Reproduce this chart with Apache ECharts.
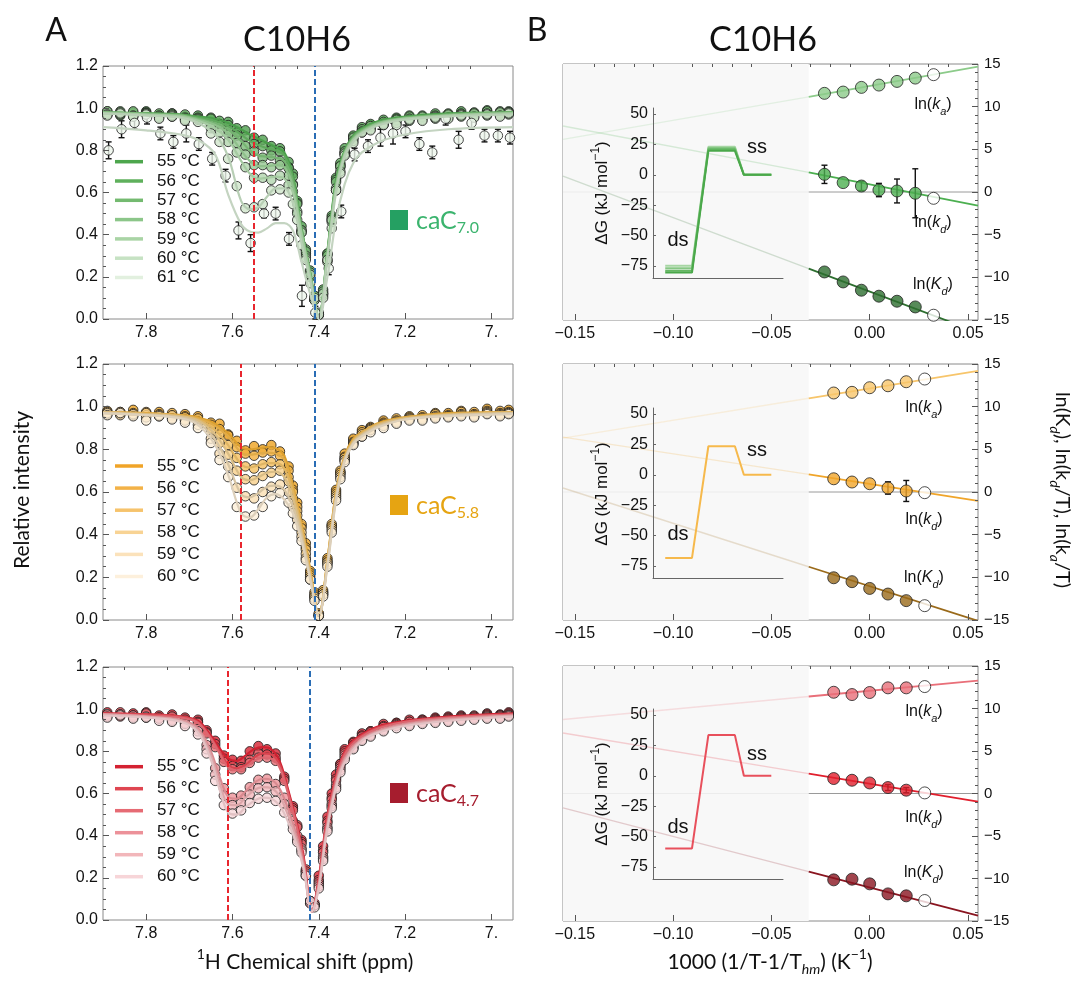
<!DOCTYPE html>
<html><head><meta charset="utf-8">
<script src="https://cdn.jsdelivr.net/npm/echarts@6/dist/echarts.min.js"></script>
<style>html,body{margin:0;padding:0;background:#fff;}#c{width:1080px;height:991px;}</style>
</head><body><div id="c"></div>
<script>
// ---------------- DATA ----------------
// Panel A: shared ppm grids
const S_GO = [7.89,7.86,7.83,7.80,7.77,7.74,7.71,7.68,7.65,7.63,7.61,7.59,7.57,7.55,7.53,7.51,7.49,7.47,7.46,7.45,7.44,7.43,7.42,7.41,7.40,7.39,7.38,7.37,7.36,7.35,7.34,7.32,7.30,7.28,7.25,7.22,7.19,7.16,7.13,7.10,7.07,7.04,7.01,6.98,6.96];
const S_R = [7.89,7.86,7.83,7.80,7.77,7.74,7.71,7.68,7.66,7.64,7.62,7.60,7.58,7.56,7.54,7.52,7.50,7.48,7.46,7.45,7.44,7.43,7.42,7.41,7.40,7.39,7.38,7.37,7.36,7.35,7.34,7.32,7.30,7.28,7.25,7.22,7.19,7.16,7.13,7.10,7.07,7.04,7.01,6.98,6.96];
const G_FIT = [7.90,7.80,7.72,7.68,7.64,7.61,7.58,7.56,7.54,7.52,7.50,7.48,7.46,7.44,7.42,7.40,7.38,7.36,7.34,7.32,7.30,7.26,7.20,7.10,6.95];
const R_FIT = [7.90,7.80,7.72,7.68,7.65,7.63,7.61,7.59,7.57,7.55,7.53,7.51,7.49,7.47,7.45,7.435,7.416,7.40,7.385,7.37,7.35,7.33,7.30,7.26,7.20,7.10,6.95];

// caC7.0 (green) measured points 55-60 °C
const s55 = [0.985,0.97,0.98,0.985,0.965,0.975,0.96,0.965,0.955,0.94,0.935,0.905,0.895,0.86,0.85,0.82,0.81,0.745,0.69,0.56,0.44,0.31,0.23,0.09,0.02,0.14,0.31,0.49,0.67,0.73,0.81,0.865,0.91,0.92,0.945,0.955,0.965,0.96,0.975,0.97,0.985,0.975,0.99,0.975,0.985];
const s56 = [0.97,0.985,0.965,0.98,0.975,0.96,0.97,0.95,0.95,0.925,0.92,0.885,0.865,0.83,0.82,0.80,0.795,0.72,0.675,0.55,0.42,0.33,0.21,0.11,0.02,0.12,0.31,0.48,0.66,0.74,0.79,0.87,0.895,0.925,0.93,0.95,0.95,0.965,0.96,0.975,0.97,0.98,0.975,0.985,0.975];
const s57 = [0.975,0.965,0.985,0.97,0.965,0.975,0.955,0.955,0.93,0.92,0.895,0.87,0.82,0.795,0.765,0.775,0.75,0.715,0.64,0.545,0.41,0.32,0.20,0.11,0.02,0.11,0.30,0.47,0.65,0.72,0.795,0.855,0.90,0.91,0.935,0.94,0.96,0.955,0.965,0.965,0.975,0.97,0.985,0.975,0.98];
const s58 = [0.985,0.97,0.965,0.975,0.96,0.97,0.95,0.95,0.92,0.91,0.875,0.835,0.78,0.73,0.73,0.72,0.73,0.68,0.635,0.51,0.42,0.30,0.22,0.09,0.03,0.13,0.28,0.46,0.62,0.725,0.78,0.86,0.885,0.915,0.92,0.945,0.94,0.96,0.95,0.97,0.96,0.975,0.965,0.98,0.97];
const s59 = [0.97,0.98,0.96,0.975,0.955,0.965,0.945,0.945,0.905,0.885,0.84,0.79,0.72,0.67,0.67,0.66,0.68,0.635,0.605,0.50,0.41,0.29,0.21,0.09,0.02,0.12,0.27,0.47,0.61,0.70,0.785,0.845,0.89,0.90,0.925,0.93,0.95,0.945,0.96,0.955,0.97,0.96,0.975,0.965,0.98];
const s60 = [0.965,0.975,0.96,0.97,0.95,0.96,0.94,0.935,0.88,0.84,0.76,0.63,0.525,0.53,0.545,0.61,0.615,0.60,0.545,0.47,0.35,0.28,0.17,0.10,0.02,0.10,0.28,0.43,0.61,0.69,0.775,0.835,0.885,0.895,0.92,0.92,0.945,0.94,0.955,0.95,0.965,0.955,0.97,0.96,0.975];
// 61 °C: sparse, with error bars
const x61 = [7.887,7.857,7.827,7.798,7.767,7.737,7.707,7.678,7.647,7.616,7.586,7.558,7.527,7.50,7.469,7.439,7.408,7.377,7.348,7.317,7.286,7.257,7.228,7.199,7.167,7.137,7.106,7.076,7.046,7.016,6.985,6.957];
const y61 = [0.80,0.90,0.93,0.955,0.88,0.84,0.88,0.83,0.76,0.68,0.42,0.36,0.50,0.50,0.38,0.11,0.03,0.24,0.51,0.78,0.82,0.86,0.88,0.89,0.83,0.79,0.95,0.85,0.93,0.87,0.87,0.86];
const e61 = [0.04,0.04,0.03,0.03,0.03,0.03,0.04,0.03,0.03,0.03,0.04,0.04,0.02,0.03,0.03,0.05,0.03,0.03,0.03,0.03,0.03,0.04,0.05,0.03,0.03,0.03,0.03,0.04,0.03,0.03,0.03,0.03];
// green fits 55..61
const g55 = [0.98,0.975,0.97,0.96,0.95,0.93,0.90,0.875,0.855,0.835,0.815,0.79,0.68,0.43,0.22,0.01,0.32,0.66,0.80,0.87,0.905,0.94,0.96,0.975,0.98];
const g56 = [0.98,0.975,0.97,0.955,0.94,0.915,0.875,0.845,0.825,0.81,0.80,0.775,0.67,0.43,0.22,0.01,0.32,0.65,0.795,0.865,0.90,0.935,0.955,0.97,0.98];
const g57 = [0.98,0.975,0.965,0.95,0.93,0.90,0.845,0.80,0.775,0.77,0.765,0.75,0.65,0.42,0.21,0.01,0.31,0.64,0.79,0.86,0.895,0.93,0.955,0.97,0.98];
const g58 = [0.98,0.97,0.965,0.945,0.92,0.88,0.80,0.75,0.725,0.725,0.73,0.72,0.63,0.41,0.21,0.01,0.31,0.63,0.785,0.855,0.89,0.93,0.95,0.965,0.975];
const g59 = [0.975,0.97,0.96,0.94,0.905,0.85,0.75,0.69,0.665,0.67,0.675,0.665,0.60,0.40,0.20,0.01,0.30,0.62,0.78,0.85,0.885,0.925,0.95,0.965,0.975];
const g60 = [0.975,0.965,0.955,0.93,0.875,0.77,0.56,0.52,0.53,0.58,0.62,0.62,0.55,0.36,0.18,0.01,0.29,0.60,0.77,0.84,0.88,0.92,0.945,0.96,0.97];
const g61 = [0.91,0.895,0.875,0.85,0.78,0.59,0.45,0.415,0.41,0.43,0.455,0.455,0.42,0.27,0.12,0.0,0.20,0.47,0.64,0.74,0.79,0.84,0.875,0.90,0.91];

// caC5.8 (orange)
const so55 = [0.98,0.965,0.985,0.97,0.975,0.96,0.965,0.955,0.925,0.92,0.87,0.84,0.795,0.815,0.80,0.82,0.79,0.72,0.63,0.55,0.44,0.36,0.23,0.13,0.03,0.13,0.29,0.44,0.61,0.69,0.78,0.845,0.89,0.90,0.935,0.935,0.955,0.95,0.97,0.965,0.98,0.965,0.99,0.97,0.985];
const so56 = [0.97,0.975,0.965,0.975,0.96,0.97,0.955,0.94,0.915,0.895,0.865,0.81,0.78,0.77,0.785,0.79,0.77,0.70,0.61,0.53,0.45,0.34,0.22,0.12,0.03,0.14,0.28,0.45,0.60,0.70,0.765,0.85,0.875,0.905,0.925,0.945,0.945,0.96,0.96,0.97,0.965,0.975,0.97,0.98,0.97];
const so57 = [0.975,0.965,0.97,0.96,0.965,0.955,0.95,0.945,0.90,0.87,0.82,0.76,0.72,0.71,0.73,0.74,0.73,0.67,0.60,0.51,0.43,0.33,0.21,0.11,0.02,0.13,0.27,0.44,0.59,0.69,0.76,0.835,0.88,0.90,0.92,0.935,0.95,0.95,0.965,0.96,0.975,0.965,0.98,0.97,0.975];
const so58 = [0.965,0.975,0.96,0.97,0.955,0.96,0.94,0.93,0.88,0.83,0.775,0.70,0.66,0.655,0.675,0.69,0.70,0.65,0.57,0.49,0.41,0.31,0.20,0.11,0.02,0.12,0.27,0.43,0.58,0.68,0.75,0.83,0.87,0.895,0.915,0.93,0.945,0.945,0.955,0.955,0.965,0.96,0.975,0.965,0.97];
const so59 = [0.97,0.96,0.965,0.95,0.96,0.945,0.935,0.915,0.85,0.78,0.72,0.62,0.58,0.57,0.60,0.625,0.635,0.60,0.53,0.47,0.39,0.29,0.19,0.10,0.02,0.12,0.26,0.42,0.57,0.67,0.75,0.825,0.86,0.89,0.91,0.925,0.94,0.94,0.95,0.955,0.96,0.955,0.97,0.96,0.97];
const so60 = [0.96,0.97,0.955,0.935,0.955,0.94,0.925,0.90,0.83,0.75,0.67,0.53,0.485,0.49,0.53,0.58,0.595,0.55,0.50,0.44,0.37,0.28,0.19,0.09,0.02,0.11,0.25,0.41,0.56,0.66,0.74,0.82,0.86,0.88,0.90,0.92,0.935,0.935,0.945,0.95,0.955,0.95,0.965,0.955,0.965];
const o55 = [0.975,0.97,0.96,0.95,0.92,0.875,0.81,0.80,0.805,0.81,0.805,0.77,0.63,0.45,0.24,0.02,0.28,0.60,0.77,0.85,0.88,0.925,0.95,0.97,0.975];
const o56 = [0.975,0.97,0.96,0.945,0.91,0.86,0.785,0.775,0.78,0.785,0.78,0.75,0.62,0.44,0.23,0.02,0.28,0.60,0.765,0.845,0.88,0.92,0.95,0.965,0.975];
const o57 = [0.975,0.965,0.955,0.94,0.89,0.82,0.73,0.715,0.725,0.735,0.735,0.71,0.60,0.43,0.22,0.02,0.27,0.59,0.76,0.84,0.875,0.92,0.945,0.965,0.975];
const o58 = [0.975,0.965,0.955,0.935,0.87,0.78,0.67,0.655,0.67,0.69,0.695,0.67,0.57,0.41,0.21,0.02,0.27,0.58,0.755,0.835,0.87,0.915,0.945,0.96,0.97];
const o59 = [0.97,0.96,0.95,0.925,0.845,0.73,0.59,0.575,0.595,0.625,0.63,0.61,0.53,0.39,0.20,0.02,0.26,0.57,0.75,0.83,0.865,0.91,0.94,0.96,0.97];
const o60 = [0.97,0.96,0.945,0.915,0.82,0.68,0.50,0.48,0.52,0.575,0.59,0.565,0.50,0.37,0.19,0.02,0.25,0.56,0.745,0.825,0.86,0.905,0.94,0.955,0.965];

// caC4.7 (red)
const sr55 = [0.985,0.97,0.98,0.985,0.965,0.975,0.955,0.95,0.90,0.85,0.78,0.76,0.755,0.80,0.825,0.81,0.79,0.68,0.54,0.44,0.38,0.23,0.08,0.08,0.21,0.35,0.49,0.60,0.69,0.74,0.81,0.845,0.885,0.895,0.93,0.935,0.95,0.95,0.96,0.965,0.97,0.965,0.98,0.975,0.985];
const sr56 = [0.975,0.985,0.97,0.975,0.97,0.96,0.96,0.94,0.89,0.835,0.765,0.73,0.725,0.76,0.79,0.785,0.77,0.67,0.53,0.45,0.37,0.24,0.09,0.07,0.19,0.33,0.47,0.58,0.67,0.74,0.80,0.84,0.875,0.895,0.92,0.935,0.94,0.95,0.955,0.96,0.965,0.97,0.975,0.97,0.98];
const sr57 = [0.97,0.975,0.965,0.98,0.96,0.965,0.95,0.935,0.885,0.82,0.75,0.715,0.715,0.745,0.77,0.77,0.755,0.66,0.52,0.44,0.36,0.23,0.09,0.07,0.18,0.32,0.46,0.57,0.66,0.73,0.79,0.83,0.87,0.89,0.915,0.93,0.94,0.945,0.95,0.955,0.96,0.965,0.97,0.97,0.975];
const sr58 = [0.975,0.965,0.97,0.96,0.96,0.95,0.935,0.905,0.83,0.72,0.625,0.58,0.59,0.63,0.665,0.67,0.645,0.58,0.47,0.40,0.34,0.22,0.09,0.07,0.17,0.30,0.44,0.55,0.64,0.72,0.78,0.82,0.86,0.88,0.905,0.925,0.93,0.94,0.945,0.95,0.955,0.96,0.965,0.965,0.97];
const sr59 = [0.965,0.975,0.96,0.965,0.955,0.945,0.93,0.895,0.81,0.69,0.59,0.545,0.555,0.595,0.625,0.63,0.61,0.55,0.45,0.38,0.33,0.21,0.08,0.07,0.16,0.29,0.43,0.54,0.63,0.71,0.77,0.815,0.855,0.875,0.90,0.92,0.925,0.935,0.94,0.945,0.95,0.955,0.96,0.96,0.97];
const sr60 = [0.96,0.97,0.955,0.96,0.945,0.94,0.92,0.88,0.79,0.66,0.545,0.505,0.52,0.555,0.575,0.58,0.565,0.51,0.43,0.37,0.32,0.21,0.09,0.06,0.15,0.28,0.42,0.53,0.62,0.70,0.76,0.81,0.85,0.87,0.895,0.91,0.92,0.93,0.935,0.94,0.945,0.95,0.955,0.955,0.965];
const r55 = [0.98,0.975,0.965,0.945,0.875,0.815,0.765,0.755,0.78,0.81,0.82,0.81,0.75,0.61,0.45,0.30,0.04,0.20,0.43,0.60,0.75,0.83,0.88,0.92,0.945,0.965,0.98];
const r56 = [0.98,0.975,0.965,0.94,0.865,0.80,0.735,0.72,0.735,0.77,0.79,0.785,0.735,0.60,0.44,0.29,0.04,0.19,0.42,0.59,0.745,0.825,0.875,0.915,0.94,0.96,0.975];
const r57 = [0.975,0.97,0.96,0.935,0.86,0.79,0.725,0.71,0.725,0.755,0.77,0.765,0.72,0.59,0.43,0.28,0.04,0.18,0.41,0.58,0.735,0.815,0.87,0.91,0.94,0.96,0.975];
const r58 = [0.975,0.965,0.95,0.91,0.80,0.68,0.585,0.575,0.61,0.65,0.67,0.665,0.62,0.52,0.39,0.26,0.04,0.17,0.39,0.56,0.72,0.80,0.86,0.90,0.93,0.955,0.97];
const r59 = [0.975,0.965,0.945,0.90,0.78,0.65,0.55,0.545,0.58,0.615,0.63,0.625,0.585,0.49,0.37,0.25,0.04,0.16,0.38,0.55,0.71,0.79,0.855,0.895,0.925,0.95,0.97];
const r60 = [0.97,0.96,0.94,0.89,0.76,0.62,0.51,0.50,0.535,0.565,0.58,0.575,0.54,0.46,0.35,0.24,0.04,0.15,0.37,0.54,0.70,0.78,0.85,0.89,0.92,0.945,0.965];

const RED_LINE = [7.553, 7.576, 7.611];
const BLUE_LINE = [7.406, 7.408, 7.416];
const TEMPS_G = ['55 °C','56 °C','57 °C','58 °C','59 °C','60 °C','61 °C'];
const TEMPS_OR = ['55 °C','56 °C','57 °C','58 °C','59 °C','60 °C'];
const CAC = ['7.0','5.8','4.7'];
const XL_TICKS = [7.8,7.6,7.4,7.2,7.0];
const XL_MINOR = [7.85,7.75,7.7,7.65,7.55,7.5,7.45,7.35,7.3,7.25,7.15,7.1,7.05];

// Panel B: 1000(1/T-1/Thm)
const TX_G = [-0.023,-0.0135,-0.0042,0.0047,0.0139,0.0232,0.0325];
const TX_OR = [-0.0183,-0.009,0.0,0.0093,0.0186,0.028];
const lnka_G = [11.56,11.71,12.26,12.53,12.96,13.35,13.75];
const lnkd_G = [2.07,1.10,0.70,0.23,0.12,-0.15,-0.74];
const errkd_G = [1.07,0,0.53,0.78,1.4,2.87,0];
const lnKd_G = [-9.37,-10.54,-11.51,-12.21,-12.80,-13.47,-14.44];
const lnka_O = [11.60,11.68,12.22,12.45,12.92,13.24];
const lnkd_O = [1.55,1.17,0.97,0.47,0.12,-0.08];
const errkd_O = [0,0,0,0.72,1.23,0];
const lnKd_O = [-10.05,-10.51,-11.30,-11.96,-12.73,-13.32];
const lnka_R = [11.91,11.64,11.88,12.43,12.43,12.58];
const lnkd_R = [1.76,1.56,1.24,0.70,0.39,0.07];
const errkd_R = [0,0,0,0.35,0.3,0];
const lnKd_R = [-10.16,-10.08,-10.63,-11.81,-12.04,-12.59];
// linear fits: x at left edge, extrapolation break, right edge
const FIT_X = [-0.156,-0.031,0.0551];
const fit_ka_G = [6.17,11.15,14.68];
const fit_kd_G = [7.73,2.3,-1.6];
const fit_Kd_G = [1.87,-8.97,-16.44];
const fit_ka_O = [6.31,10.98,14.2];
const fit_kd_O = [6.43,2.06,-1.05];
const fit_Kd_O = [0.47,-8.76,-15.1];
const fit_ka_R = [8.71,11.41,13.27];
const fit_kd_R = [7.11,2.34,-0.95];
const fit_Kd_R = [-1.69,-9.19,-14.36];
const XR_TICKS = [-0.15,-0.1,-0.05,0,0.05];
const XR_MINOR = [-0.14,-0.13,-0.12,-0.11,-0.09,-0.08,-0.07,-0.06,-0.04,-0.03,-0.02,-0.01,0.01,0.02,0.03,0.04];
// Insets: energy diagrams (ds -> TS -> ss)
const INSET_X = [0.094,0.30,0.426,0.63,0.699,0.91];
const ds_G = [-75,-77,-79,-80.5];
const ts_G = [23,22,21,19.7];
const ds_O = [-68.5];
const ts_O = [23.5];
const ds_R = [-59.8];
const ts_R = [33.5];
const INSET_TICKS = [-75,-50,-25,0,25,50];

// ---------------- STYLE / LAYOUT ----------------
const LF = '"Liberation Sans", Arial, sans-serif';
const HF = 'Lato, "Open Sans", sans-serif';
const G_PT = ['#4e9e4e','#63ab60','#79b876','#95c691','#b2d5ae','#cfe5cb','#eef6ec'];
const G_LN = ['#4a9f4a','#5fa95c','#76b472','#8fc08b','#a6cba2','#b8cfb5','#c4d4c1'];
const G_LG = ['#4da64d','#5fb05c','#74ba70','#8cc689','#a9d4a5','#c6e2c3','#e2f0df'];
const O_PT = ['#eea320','#f2b03e','#f5c060','#f8d089','#fadfb1','#fcefd8'];
const O_LN = ['#dca02e','#e0ab48','#dfb564','#d9bd86','#d6c4a3','#ddd0bb'];
const O_LG = ['#f0a428','#f3b247','#f6c36c','#f8d394','#fbe2bb','#fdf0dc'];
const R_PT = ['#d42030','#de454f','#e56b73','#ec9298','#f2b7bb','#f7d7d9'];
const R_LN = ['#cf2131','#d8434e','#dc6770','#d98a90','#dca6a9','#e2c2c4'];
const R_LG = ['#d42232','#df4651','#e66b74','#ec9199','#f2b6ba','#f7d5d8'];
const RC = [
  {ka:'#8ccb8a', kd:'#4caf50', Kd:'#2d6e2f'},
  {ka:'#f7c56b', kd:'#f0a52a', Kd:'#9a6a1a'},
  {ka:'#e96f79', kd:'#e11f2d', Kd:'#8a1520'}
];
const INS_C = [['#a6d6a3','#86c784','#66b864','#4aa84a'],['#f6b94c'],['#e8505c']];
const SQ_C = ['#25a062','#e6a412','#a61d2e'];
const TX_C = ['#3bb46e','#e6a412','#a61d2e'];

const grids = [
  {left:103, top:66, width:410, height:253},
  {left:103, top:364, width:410, height:256},
  {left:103, top:667, width:410, height:253},
  {left:563, top:64, width:415, height:256},
  {left:563, top:364, width:415, height:256},
  {left:563, top:666, width:415, height:255},
  {left:653, top:108, width:130, height:170},
  {left:653, top:408, width:130, height:170},
  {left:653, top:709, width:130, height:170}
];

const xAxes = [], yAxes = [], series = [], els = [];
const tickLS = {color:'#555', width:1};
for (let p = 0; p < 3; p++) {
  xAxes.push({gridIndex:p, z:10, type:'value', min:6.95, max:7.9, inverse:true, splitLine:{show:false},
    axisLine:{show:false, onZero:false},
    axisTick:{show:true, inside:true, length:6, customValues:XL_TICKS, lineStyle:tickLS},
    axisLabel:{customValues:XL_TICKS, formatter:v => Math.abs(v-7) < 1e-9 ? '7.' : v.toFixed(1),
      fontSize:16, color:'#111', fontFamily:LF, margin:6}});
  yAxes.push({gridIndex:p, z:10, type:'value', min:0, max:1.2, interval:0.2, splitLine:{show:false},
    axisLine:{show:false, onZero:false},
    axisTick:{show:true, inside:true, length:6, lineStyle:tickLS},
    minorTick:{show:true, splitNumber:4, length:3, lineStyle:tickLS},
    axisLabel:{formatter:v => v.toFixed(1), fontSize:16, color:'#111', fontFamily:LF, margin:5}});
}
for (let q = 0; q < 3; q++) {
  xAxes.push({gridIndex:3+q, z:10, type:'value', min:-0.156, max:0.0551, splitLine:{show:false},
    axisLine:{show:false, onZero:false},
    axisTick:{show:true, inside:true, length:6, customValues:XR_TICKS, lineStyle:tickLS},
    axisLabel:{customValues:XR_TICKS, formatter:v => (v < -1e-9 ? '\u2212' : '') + Math.abs(v).toFixed(2),
      fontSize:16, color:'#111', fontFamily:LF, margin:6}});
  yAxes.push({gridIndex:3+q, z:10, type:'value', position:'right', min:-15, max:15, interval:5, splitLine:{show:false},
    axisLine:{show:false, onZero:false},
    axisTick:{show:true, inside:true, length:6, lineStyle:tickLS},
    minorTick:{show:true, splitNumber:5, length:3, lineStyle:tickLS},
    axisLabel:{formatter:v => v < 0 ? '\u2212' + (-v) : '' + v, fontSize:15, color:'#111', fontFamily:LF, margin:6}});
}
for (let q = 0; q < 3; q++) {
  xAxes.push({gridIndex:6+q, z:10, type:'value', min:0, max:1, splitLine:{show:false},
    axisLine:{show:true, onZero:false, lineStyle:{color:'#666', width:1}},
    axisTick:{show:false}, axisLabel:{show:false}});
  yAxes.push({gridIndex:6+q, z:10, type:'value', min:-85, max:55, splitLine:{show:false},
    axisLine:{show:true, onZero:false, lineStyle:{color:'#666', width:1}},
    axisTick:{show:true, inside:true, length:3, customValues:INSET_TICKS, lineStyle:{color:'#666'}},
    axisLabel:{customValues:INSET_TICKS, formatter:v => v < 0 ? '\u2212' + (-v) : '' + v,
      fontSize:16, color:'#111', fontFamily:LF, margin:5}});
}
// minor tick axes (x)
for (let p = 0; p < 3; p++) {
  xAxes.push({gridIndex:p, z:10, type:'value', min:6.95, max:7.9, inverse:true, splitLine:{show:false},
    axisLine:{show:false, onZero:false}, axisLabel:{show:false},
    axisTick:{show:true, inside:true, length:3, customValues:XL_MINOR, lineStyle:tickLS}});
}
for (let q = 0; q < 3; q++) {
  xAxes.push({gridIndex:3+q, z:10, type:'value', min:-0.156, max:0.0551, splitLine:{show:false},
    axisLine:{show:false, onZero:false}, axisLabel:{show:false},
    axisTick:{show:true, inside:true, length:3, customValues:XR_MINOR, lineStyle:tickLS}});
}

function errSeries(data, xi, yi, z, w) {
  return {type:'custom', xAxisIndex:xi, yAxisIndex:yi, z:z, data:data, encode:{x:0, y:1}, silent:true,
    renderItem:function(params, api) {
      const x = api.value(0), y = api.value(1), e = api.value(2);
      const a = api.coord([x, y + e]), b = api.coord([x, y - e]);
      const st = {stroke:'#111', lineWidth:1.4};
      return {type:'group', children:[
        {type:'line', shape:{x1:a[0], y1:a[1], x2:b[0], y2:b[1]}, style:st},
        {type:'line', shape:{x1:a[0]-w, y1:a[1], x2:a[0]+w, y2:a[1]}, style:st},
        {type:'line', shape:{x1:b[0]-w, y1:b[1], x2:b[0]+w, y2:b[1]}, style:st}
      ]};
    }};
}

// ---------------- Panel A series ----------------
const LEFT = [
  {sx:S_GO, fx:G_FIT, pts:[s55,s56,s57,s58,s59,s60], fits:[g55,g56,g57,g58,g59,g60,g61], pt:G_PT, ln:G_LN},
  {sx:S_GO, fx:G_FIT, pts:[so55,so56,so57,so58,so59,so60], fits:[o55,o56,o57,o58,o59,o60], pt:O_PT, ln:O_LN},
  {sx:S_R, fx:R_FIT, pts:[sr55,sr56,sr57,sr58,sr59,sr60], fits:[r55,r56,r57,r58,r59,r60], pt:R_PT, ln:R_LN}
];
LEFT.forEach((d, p) => {
  d.pts.forEach((ys, i) => series.push({type:'scatter', xAxisIndex:p, yAxisIndex:p, symbolSize:9.5, z:2,
    data:d.sx.map((x, j) => [x, ys[j]]),
    itemStyle:{color:d.pt[i], borderColor:'#1c1c1c', borderWidth:1}}));
  if (p === 0) {
    series.push(errSeries(x61.map((x, j) => [x, y61[j], e61[j]]), 0, 0, 2, 3));
    series.push({type:'scatter', xAxisIndex:0, yAxisIndex:0, symbolSize:9.5, z:2,
      data:x61.map((x, j) => [x, y61[j]]),
      itemStyle:{color:d.pt[6], borderColor:'#1c1c1c', borderWidth:1}});
  }
  d.fits.forEach((ys, i) => series.push({type:'line', xAxisIndex:p, yAxisIndex:p, smooth:0.35, symbol:'none', z:3,
    data:d.fx.map((x, j) => [x, ys[j]]), lineStyle:{color:d.ln[i], width:2.2}}));
  series.push({type:'line', xAxisIndex:p, yAxisIndex:p, data:[], z:4,
    markLine:{silent:true, symbol:'none', label:{show:false}, animation:false,
      lineStyle:{type:[6,3], width:2},
      data:[{xAxis:RED_LINE[p], lineStyle:{color:'#e8262e', type:[6,3], width:2}},
            {xAxis:BLUE_LINE[p], lineStyle:{color:'#2a6db5', type:[6,3], width:2}}]}});
});

// ---------------- Panel B series ----------------
const RIGHT = [
  {tx:TX_G, ka:lnka_G, kd:lnkd_G, ekd:errkd_G, Kd:lnKd_G, fka:fit_ka_G, fkd:fit_kd_G, fKd:fit_Kd_G},
  {tx:TX_OR, ka:lnka_O, kd:lnkd_O, ekd:errkd_O, Kd:lnKd_O, fka:fit_ka_O, fkd:fit_kd_O, fKd:fit_Kd_O},
  {tx:TX_OR, ka:lnka_R, kd:lnkd_R, ekd:errkd_R, Kd:lnKd_R, fka:fit_ka_R, fkd:fit_kd_R, fKd:fit_Kd_R}
];
RIGHT.forEach((d, q) => {
  const xi = 3 + q, yi = 3 + q;
  series.push({type:'line', xAxisIndex:xi, yAxisIndex:yi, symbol:'none', z:1,
    data:[[FIT_X[0], 0], [FIT_X[1], 0]], lineStyle:{color:'#ececec', width:1},
    markArea:{silent:true, itemStyle:{color:'#f8f8f8'}, data:[[{xAxis:FIT_X[0]}, {xAxis:FIT_X[1]}]]}});
  series.push({type:'line', xAxisIndex:xi, yAxisIndex:yi, symbol:'none', z:1,
    data:[[FIT_X[1], 0], [FIT_X[2], 0]], lineStyle:{color:'#9a9a9a', width:1}});
  ['ka', 'kd', 'Kd'].forEach(k => {
    const f = d['f' + k], c = RC[q][k];
    series.push({type:'line', xAxisIndex:xi, yAxisIndex:yi, symbol:'none', z:2, clip:true,
      data:[[FIT_X[0], f[0]], [FIT_X[1], f[1]]], lineStyle:{color:c, width:1.4, opacity:0.2}});
    series.push({type:'line', xAxisIndex:xi, yAxisIndex:yi, symbol:'none', z:3, clip:true,
      data:[[FIT_X[1], f[1]], [FIT_X[2], f[2]]], lineStyle:{color:c, width:1.8}});
  });
  series.push(errSeries(d.tx.map((x, i) => [x, d.kd[i], d.ekd[i]]).filter(r => r[2] > 0), xi, yi, 4, 3));
  ['ka', 'kd', 'Kd'].forEach(k => {
    series.push({type:'scatter', xAxisIndex:xi, yAxisIndex:yi, symbolSize:12, z:5,
      data:d.tx.map((x, i) => ({value:[x, d[k][i]], itemStyle:{color:i === d.tx.length - 1 ? '#ffffff' : RC[q][k]}})),
      itemStyle:{borderColor:'#222', borderWidth:1}});
  });
});
// insets
[[ds_G, ts_G], [ds_O, ts_O], [ds_R, ts_R]].forEach((pair, q) => {
  pair[0].forEach((ds, j) => {
    const lv = [ds, ds, pair[1][j], pair[1][j], 0, 0];
    series.push({type:'line', xAxisIndex:6+q, yAxisIndex:6+q, symbol:'none', z:6,
      data:INSET_X.map((x, k) => [x, lv[k]]), lineStyle:{color:INS_C[q][j], width:2}});
  });
});

// ---------------- Text / legends ----------------
function rich(fs, fam, color) {
  const sf = Math.round(fs * 0.68);
  return {
    n:{fontSize:fs, fontFamily:fam, lineHeight:fs + 8, fill:color},
    i:{fontSize:fs, fontFamily:fam, fontStyle:'italic', lineHeight:fs + 8, fill:color},
    sb:{fontSize:sf, fontFamily:fam, fontStyle:'italic', lineHeight:sf + 1, verticalAlign:'bottom', fill:color},
    sn:{fontSize:sf, fontFamily:fam, lineHeight:sf + 1, verticalAlign:'bottom', fill:color},
    sp:{fontSize:sf, fontFamily:fam, lineHeight:sf + 1, verticalAlign:'top', fill:color}
  };
}
function T(x, y, text, opt) {
  opt = opt || {};
  const st = {text:text, fill:opt.color || '#111', textAlign:opt.align || 'center', align:opt.align || 'center',
    textVerticalAlign:'middle', verticalAlign:'middle', font:opt.font || ('16px ' + LF)};
  if (opt.rich) st.rich = opt.rich;
  els.push({type:'text', x:x, y:y, rotation:opt.rot || 0, z:100, style:st});
}
T(56, 31, 'A', {font:'32px ' + HF});
T(537, 31, 'B', {font:'32px ' + HF});
T(297, 40, 'C10H6', {font:'34px ' + HF});
T(763, 40, 'C10H6', {font:'34px ' + HF});
T(22, 490, 'Relative intensity', {font:'21px ' + HF, rot:Math.PI / 2});
T(305, 962, '{sp|1}{n|H Chemical shift (ppm)}', {rich:rich(21, HF, '#111')});
T(770, 962, '{n|1000 (1/T-1/T}{sb|hm}{n|) (K}{sp|\u22121}{n|)}', {rich:rich(21, HF, '#111')});
T(1062, 490, '{n|ln(K}{sb|d}{n|), ln(k}{sb|d}{n|/T), ln(k}{sb|a}{n|/T)}', {rich:rich(20, HF, '#111'), rot:-Math.PI / 2});

const LEG = [
  {temps:TEMPS_G, col:G_LG, y0:161.7, dy:19.3, sqy:220},
  {temps:TEMPS_OR, col:O_LG, y0:466, dy:22.1, sqy:505},
  {temps:TEMPS_OR, col:R_LG, y0:766.7, dy:22, sqy:793}
];
LEG.forEach((L, p) => {
  L.temps.forEach((t, i) => {
    const y = L.y0 + i * L.dy;
    els.push({type:'line', z:100, shape:{x1:115, y1:y, x2:143, y2:y}, style:{stroke:L.col[i], lineWidth:3.5}});
    T(157, y, t, {align:'left', font:'17px ' + LF});
  });
  els.push({type:'rect', z:100, shape:{x:390, y:L.sqy - 10, width:18, height:20}, style:{fill:SQ_C[p]}});
  T(416, L.sqy + 1, '{c|caC}{s|' + CAC[p] + '}', {align:'left', rich:{
    c:{fontSize:25, fontFamily:HF, fill:TX_C[p], lineHeight:30},
    s:{fontSize:16, fontFamily:HF, fill:TX_C[p], lineHeight:16, verticalAlign:'bottom'}}});
});

const INS_LAB = [
  {gy:193, dsy:240, ssy:147},
  {gy:494, dsy:534, ssy:450},
  {gy:794, dsy:827, ssy:754}
];
const LN_POS = [
  [[933,105],[933,223],[933,285]],
  [[924,408],[924,520],[924,578]],
  [[924,712],[924,818],[924,873]]
];
INS_LAB.forEach((P, q) => {
  T(602, P.gy, '{n|\u0394G (kJ mol}{sp|\u22121}{n|)}', {rich:rich(17, LF, '#111'), rot:Math.PI / 2});
  T(678, P.dsy, 'ds', {font:'20px ' + LF});
  T(757, P.ssy, 'ss', {font:'20px ' + LF});
  const lp = LN_POS[q];
  T(lp[0][0], lp[0][1], '{n|ln(}{i|k}{sb|a}{n|)}', {rich:rich(16, LF, '#111')});
  T(lp[1][0], lp[1][1], '{n|ln(}{i|k}{sb|d}{n|)}', {rich:rich(16, LF, '#111')});
  T(lp[2][0], lp[2][1], '{n|ln(}{i|K}{sb|d}{n|)}', {rich:rich(16, LF, '#111')});
});

const option = {
  animation:false,
  backgroundColor:'#ffffff',
  grid:grids.map((g, i) => Object.assign({}, g, {show:i < 6, borderColor:'#8a8a8a', borderWidth:1, backgroundColor:'transparent'})),
  xAxis:xAxes,
  yAxis:yAxes,
  series:series,
  graphic:{elements:els}
};
const chart = echarts.init(document.getElementById('c'));
chart.setOption(option);
</script></body></html>
